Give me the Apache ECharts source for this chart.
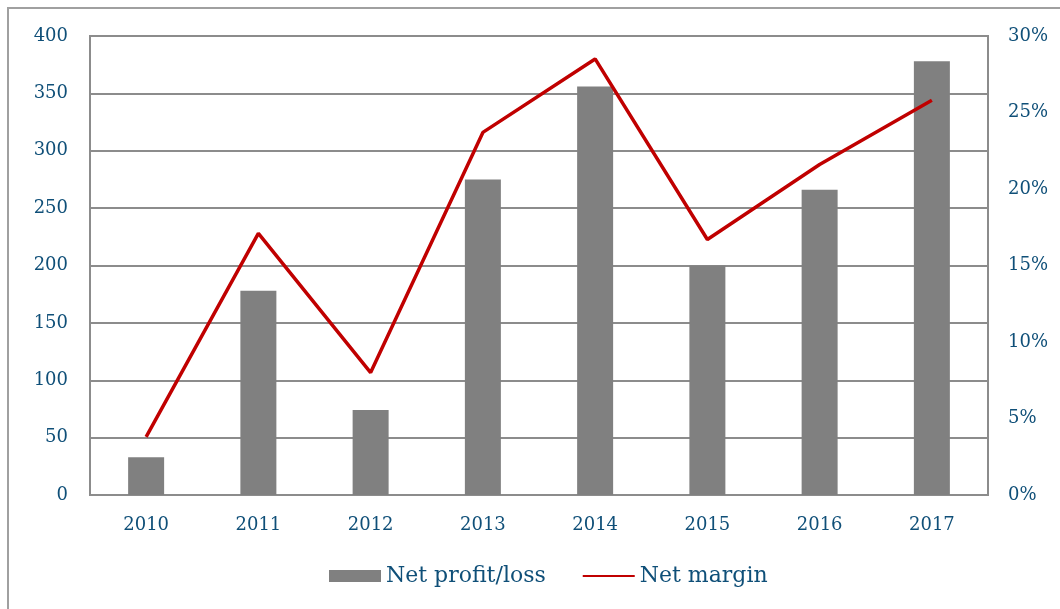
<!DOCTYPE html>
<html>
<head>
<meta charset="utf-8">
<script src="https://cdn.jsdelivr.net/npm/echarts@6/dist/echarts.min.js"></script>
<style>
  html, body { margin: 0; padding: 0; background: #fff; }
  #frame {
    position: absolute; left: 7px; top: 7px; width: 1060px; height: 610px;
    border-left: 2px solid #a0a0a0; border-top: 2px solid #a0a0a0;
  }
  #chart { position: absolute; left: 0; top: 0; width: 1060px; height: 609px; }
</style>
</head>
<body>
<div id="frame"></div>
<div id="chart"></div>
<script>
// 数据
const years = ['2010', '2011', '2012', '2013', '2014', '2015', '2016', '2017']
const netProfit = [33, 178, 74, 275, 356, 200, 266, 378]
const netMargin = [3.8, 17.1, 8.0, 23.7, 28.5, 16.7, 21.6, 25.8]

const textColor = '#0f4f78'
const serif = '"DejaVu Serif", "Liberation Serif", serif'

const chart = echarts.init(document.getElementById('chart'))
chart.setOption({
  animation: false,
  textStyle: { fontFamily: serif, color: textColor },
  grid: {
    left: 90, right: 72, top: 36, bottom: 114,
    show: true, borderColor: '#8c8c8c', borderWidth: 2
  },
  legend: {
    left: 324,
    bottom: 17,
    itemGap: 36,
    itemWidth: 52,
    itemHeight: 12,
    textStyle: { fontFamily: serif, color: textColor, fontSize: 22 },
    data: [
      { name: 'Net profit/loss', icon: 'rect' },
      { name: 'Net margin', itemStyle: { color: 'transparent', borderWidth: 0 } }
    ]
  },
  xAxis: {
    type: 'category',
    data: years,
    axisTick: { show: false },
    axisLine: { lineStyle: { color: '#8c8c8c', width: 2 } },
    axisLabel: { color: textColor, fontSize: 18, margin: 21, fontFamily: serif }
  },
  yAxis: [
    {
      type: 'value', min: 0, max: 400, interval: 50,
      axisLabel: { color: textColor, fontSize: 18, margin: 22, fontFamily: serif },
      splitLine: { lineStyle: { color: '#8c8c8c', width: 2 } }
    },
    {
      type: 'value', min: 0, max: 30, interval: 5,
      position: 'right',
      axisLabel: { color: textColor, fontSize: 18, margin: 20, formatter: '{value}%', fontFamily: serif },
      splitLine: { show: false }
    }
  ],
  series: [
    {
      name: 'Net profit/loss',
      type: 'bar',
      data: netProfit,
      barWidth: 36,
      itemStyle: { color: '#808080' }
    },
    {
      name: 'Net margin',
      type: 'line',
      yAxisIndex: 1,
      data: netMargin,
      showSymbol: false,
      symbol: 'none',
      lineStyle: { color: '#c00000', width: 3.5 },
      itemStyle: { color: '#c00000' }
    }
  ]
})
</script>
</body>
</html>
